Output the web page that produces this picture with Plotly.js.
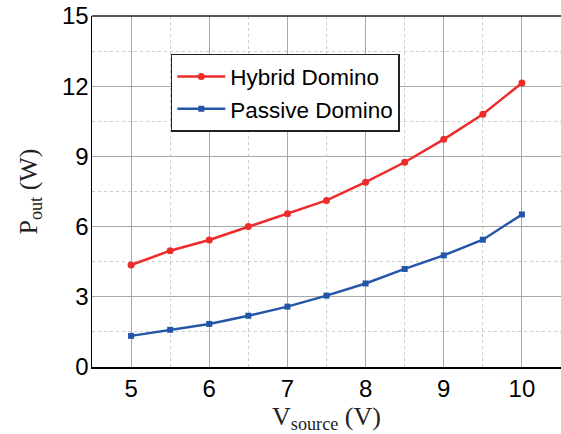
<!DOCTYPE html>
<html><head><meta charset="utf-8">
<script src="https://cdn.plot.ly/plotly-3.0.1.min.js"></script>
<style>html,body{margin:0;padding:0;background:#fff;overflow:hidden}</style>
</head><body>
<div id="chart" style="width:561px;height:434px"></div>
<script>
const vsource = [5, 5.5, 6, 6.5, 7, 7.5, 8, 8.5, 9, 9.5, 10];
const hybridPout = [4.36, 4.97, 5.43, 6.0, 6.55, 7.12, 7.9, 8.75, 9.73, 10.8, 12.14];
const passivePout = [1.33, 1.59, 1.84, 2.19, 2.58, 3.05, 3.57, 4.19, 4.77, 5.44, 6.52];
const xTicks = [5, 6, 7, 8, 9, 10];
const yTicks = [0, 3, 6, 9, 12, 15];

const traces = [
  {x: vsource, y: hybridPout, name: 'Hybrid Domino', mode: 'lines+markers',
   line: {color: '#ee2b2b', width: 2.5}, marker: {symbol: 'circle', size: 7, color: '#ee2b2b'}},
  {x: vsource, y: passivePout, name: 'Passive Domino', mode: 'lines+markers',
   line: {color: '#2456a8', width: 2.5}, marker: {symbol: 'square', size: 6, color: '#2456a8'}}
];

const axisCommon = {
  showline: true, linecolor: '#000', linewidth: 1.5, mirror: false,
  showgrid: true, gridcolor: '#a8a8a8', gridwidth: 1,
  zeroline: false, ticks: '', tickfont: {family: 'Liberation Sans, Arial, sans-serif', size: 24, color: '#000'}
};

const layout = {
  width: 561, height: 434,
  margin: {l: 92, r: 0, t: 16, b: 67},
  paper_bgcolor: '#fff', plot_bgcolor: '#fff',
  showlegend: true,
  legend: {x: 0.168, y: 0.892, xanchor: 'left', yanchor: 'top',
    bgcolor: '#fff', bordercolor: '#222', borderwidth: 1.5,
    font: {family: 'Liberation Sans, Arial, sans-serif', size: 22.5, color: '#000'},
    tracegroupgap: 0, itemwidth: 48},
  xaxis: Object.assign({}, axisCommon, {
    range: [4.5, 10.5], tickvals: xTicks, ticktext: xTicks.map(String),
    minor: {showgrid: true, gridcolor: '#cccccc', griddash: 'dot', gridwidth: 1, dtick: 0.5, tick0: 4.5},
    title: {text: 'V<sub>source</sub> (V)', standoff: 2,
      font: {family: 'Liberation Serif, Times New Roman, serif', size: 26, color: '#222'}}
  }),
  yaxis: Object.assign({}, axisCommon, {
    range: [0, 15], tickvals: yTicks, ticktext: yTicks.map(String), ticklabelstandoff: -3,
    minor: {showgrid: true, gridcolor: '#cccccc', griddash: 'dot', gridwidth: 1, dtick: 1.5, tick0: 0},
    title: {text: 'P<sub>out</sub> (W)', standoff: 17,
      font: {family: 'Liberation Serif, Times New Roman, serif', size: 26, color: '#222'}}
  }),
  shapes: [{type: 'line', xref: 'paper', yref: 'paper', x0: 0, x1: 1, y0: 1, y1: 1,
    line: {color: '#222', width: 1.5}}]
};

Plotly.newPlot('chart', traces, layout, {displayModeBar: false, staticPlot: true});
</script>
</body></html>
